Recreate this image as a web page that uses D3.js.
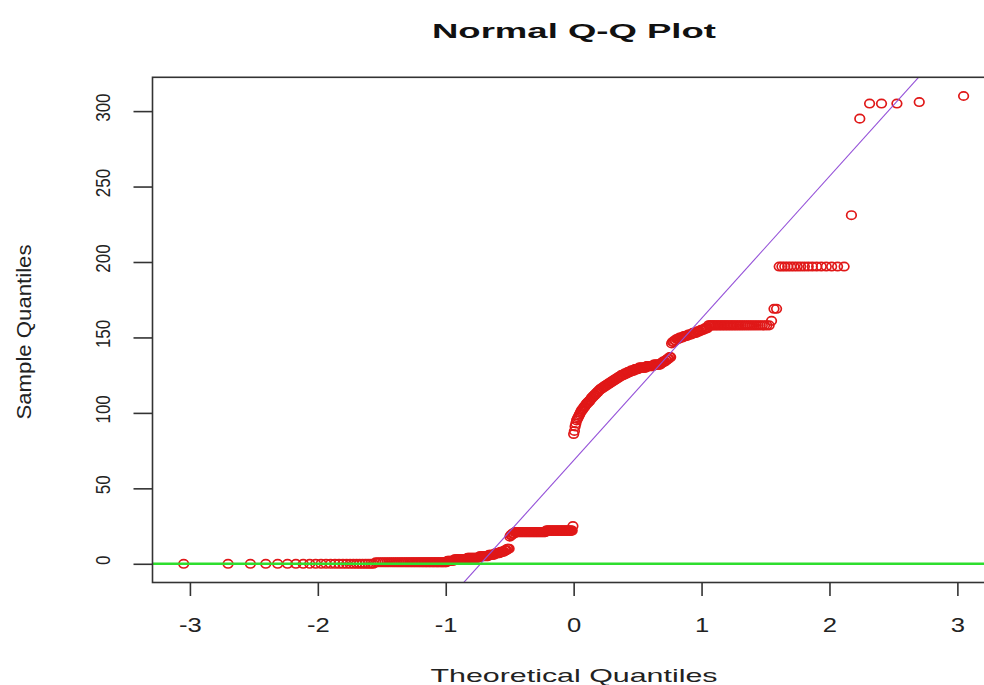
<!DOCTYPE html>
<html>
<head>
<meta charset="utf-8">
<script src="https://cdn.jsdelivr.net/npm/d3@7"></script>
<style>
  body { margin: 0; background: #ffffff; }
  text { font-family: "Liberation Sans", Arial, Helvetica, sans-serif; }
</style>
</head>
<body>
<svg id="chart" width="984" height="685"></svg>
<script>
// Sorted sample, stored as distinct levels and the number of observations at each level
const sampleLevels = [
  0, 1, 2, 3, 4, 5, 6, 7, 8, 9, 10,
  18, 19, 20, 21, 22, 25,
  86, 88, 91, 93, 95, 96, 97, 98, 99, 100, 101,
  102, 103, 104, 105, 106, 107, 108, 109, 110, 111, 112, 113, 114, 115, 116,
  117, 118, 119, 120, 121, 122, 123, 124, 125, 126, 127, 128, 129, 130,
  131, 132, 133, 134, 135, 136, 137,
  146, 147, 148, 149, 150, 151, 152, 153, 154, 155, 156, 158,
  161, 169, 197, 231, 295, 305, 306, 310
];
const levelCounts = [
  26, 44, 6, 12, 12, 10, 7, 6, 5, 3, 3,
  1, 2, 3, 40, 36, 1,
  1, 1, 1, 1, 1, 1, 1, 1, 1, 1, 1,
  2, 1, 2, 1, 2, 2, 2, 1, 2, 2, 2, 2, 2, 2, 3,
  3, 3, 3, 3, 3, 3, 3, 3, 4, 4, 4, 5, 5, 9,
  8, 8, 2, 3, 2, 2, 2,
  1, 2, 2, 3, 4, 4, 4, 4, 3, 3, 3, 37,
  1, 2, 17, 1, 1, 3, 1, 1
];
const xTicks = [-3, -2, -1, 0, 1, 2, 3];
const yTicks = [0, 50, 100, 150, 200, 250, 300];
const titleText = "Normal Q-Q Plot";
const xTitle = "Theoretical Quantiles";
const yTitle = "Sample Quantiles";
const refLevel = 0;   // horizontal reference line

// Expand the runs into the ordered sample
const sample = sampleLevels.flatMap((v, k) => Array(levelCounts[k]).fill(v));
const n = sample.length;

// Inverse of the standard normal CDF (Acklam's rational approximation)
function qnorm(p) {
  const a = [-3.969683028665376e+01, 2.209460984245205e+02, -2.759285104469687e+02,
             1.383577518672690e+02, -3.066479806614716e+01, 2.506628277459239e+00];
  const b = [-5.447609879822406e+01, 1.615858368580409e+02, -1.556989798598866e+02,
             6.680131188771972e+01, -1.328068155288572e+01];
  const c = [-7.784894002430293e-03, -3.223964580411365e-01, -2.400758277161838e+00,
             -2.549732539343734e+00, 4.374664141464968e+00, 2.938163982698783e+00];
  const d = [7.784695709041462e-03, 3.224671290700398e-01, 2.445134137142996e+00,
             3.754408661907416e+00];
  const pl = 0.02425, ph = 1 - pl;
  let q, r;
  if (p < pl) {
    q = Math.sqrt(-2 * Math.log(p));
    return (((((c[0]*q+c[1])*q+c[2])*q+c[3])*q+c[4])*q+c[5]) /
           ((((d[0]*q+d[1])*q+d[2])*q+d[3])*q+1);
  }
  if (p > ph) {
    q = Math.sqrt(-2 * Math.log(1 - p));
    return -(((((c[0]*q+c[1])*q+c[2])*q+c[3])*q+c[4])*q+c[5]) /
            ((((d[0]*q+d[1])*q+d[2])*q+d[3])*q+1);
  }
  q = p - 0.5; r = q * q;
  return (((((a[0]*r+a[1])*r+a[2])*r+a[3])*r+a[4])*r+a[5]) * q /
         (((((b[0]*r+b[1])*r+b[2])*r+b[3])*r+b[4])*r+1);
}

// Plotting positions (i - 1/2) / n, paired with the ordered sample
const points = sample.map((v, i) => ({ t: qnorm((i + 0.5) / n), v }));

// Axis ranges padded by 4% on each side
function padded(ext) { const p = (ext[1] - ext[0]) * 0.04; return [ext[0] - p, ext[1] + p]; }
const plot = { left: 152.5, right: 994.8, top: 77.3, bottom: 582.5 };

const x = d3.scaleLinear().domain(padded(d3.extent(points, d => d.t))).range([plot.left, plot.right]);
const y = d3.scaleLinear().domain(padded(d3.extent(points, d => d.v))).range([plot.bottom, plot.top]);

const svg = d3.select("#chart");

svg.append("defs").append("clipPath").attr("id", "plotClip")
  .append("rect")
  .attr("x", plot.left).attr("y", plot.top)
  .attr("width", plot.right - plot.left).attr("height", plot.bottom - plot.top);

// Points
const inner = svg.append("g").attr("clip-path", "url(#plotClip)");
inner.append("g").selectAll("ellipse")
  .data(points)
  .join("ellipse")
  .attr("cx", d => x(d.t))
  .attr("cy", d => y(d.v))
  .attr("rx", 4.8)
  .attr("ry", 4.2)
  .attr("fill", "none")
  .attr("stroke", "#e01818")
  .attr("stroke-width", 1.7);

// Line through the first and third quartiles
const q1 = d3.quantile(sample, 0.25), q3 = d3.quantile(sample, 0.75);
const z1 = qnorm(0.25), z3 = qnorm(0.75);
const slope = (q3 - q1) / (z3 - z1);
const intercept = q1 - slope * z1;
const [t0, t1] = x.domain();
inner.append("line")
  .attr("x1", x(t0)).attr("y1", y(intercept + slope * t0))
  .attr("x2", x(t1)).attr("y2", y(intercept + slope * t1))
  .attr("stroke", "#9450d8").attr("stroke-width", 1.1);

// Horizontal reference line
inner.append("line")
  .attr("x1", plot.left).attr("x2", plot.right)
  .attr("y1", y(refLevel)).attr("y2", y(refLevel))
  .attr("stroke", "#2ede2e").attr("stroke-width", 2.6);

// Frame
svg.append("rect")
  .attr("x", plot.left).attr("y", plot.top)
  .attr("width", plot.right - plot.left).attr("height", plot.bottom - plot.top)
  .attr("fill", "none").attr("stroke", "#333").attr("stroke-width", 1.6);

// Axes
const xAxis = svg.append("g")
  .attr("transform", `translate(0,${plot.bottom})`)
  .call(d3.axisBottom(x).tickValues(xTicks).tickSize(13.5).tickFormat(d3.format("d")));
xAxis.select(".domain").remove();
xAxis.selectAll(".tick line").attr("stroke", "#333").attr("stroke-width", 1.6);
xAxis.selectAll(".tick text")
  .attr("y", 0).attr("dy", null)
  .attr("transform", "translate(0,49) scale(1.28,1)")
  .attr("font-size", 20).attr("fill", "#222")
  .text(d => d < 0 ? "-" + Math.abs(d) : d);

const yAxis = svg.append("g")
  .attr("transform", `translate(${plot.left},0)`)
  .call(d3.axisLeft(y).tickValues(yTicks).tickSize(19));
yAxis.select(".domain").remove();
yAxis.selectAll(".tick line").attr("stroke", "#333").attr("stroke-width", 1.6);
yAxis.selectAll(".tick text")
  .attr("x", 0).attr("dy", null)
  .attr("text-anchor", "middle")
  .attr("transform", "translate(-43,-4) scale(1.22,1) rotate(-90)")
  .attr("font-size", 17).attr("fill", "#222");

// Titles
svg.append("text")
  .attr("x", 574).attr("y", 38)
  .attr("text-anchor", "middle")
  .attr("font-size", 21).attr("font-weight", "bold").attr("fill", "#111")
  .attr("textLength", 284).attr("lengthAdjust", "spacingAndGlyphs")
  .text(titleText);

svg.append("text")
  .attr("x", 574).attr("y", 682)
  .attr("text-anchor", "middle")
  .attr("font-size", 19).attr("fill", "#222")
  .attr("textLength", 287).attr("lengthAdjust", "spacingAndGlyphs")
  .text(xTitle);

svg.append("text")
  .attr("transform", "translate(31,332) rotate(-90)")
  .attr("text-anchor", "middle")
  .attr("font-size", 20).attr("fill", "#222")
  .attr("textLength", 175).attr("lengthAdjust", "spacingAndGlyphs")
  .text(yTitle);
</script>
</body>
</html>
